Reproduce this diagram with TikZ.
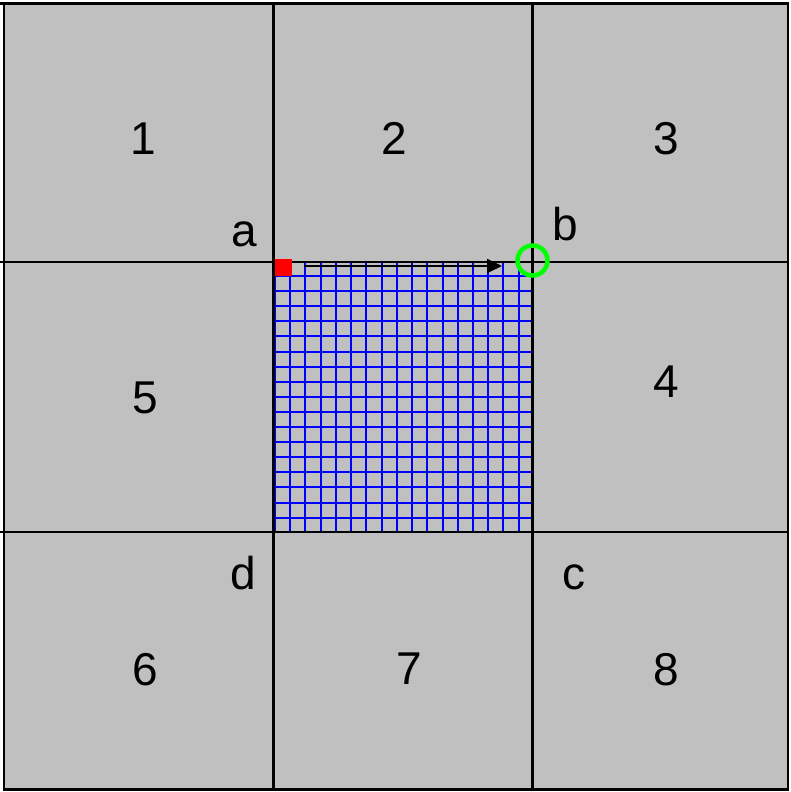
\documentclass[tikz,border=0pt]{standalone}
\usepackage{fontspec}
\setmainfont{Liberation Sans}
\usetikzlibrary{arrows.meta}
\definecolor{cellgray}{HTML}{C0C0C0}
\definecolor{brightgreen}{HTML}{00FF00}
\begin{document}
\begin{tikzpicture}[x=1pt,y=-1pt,
  lbl/.style={anchor=base,inner sep=0pt,font=\fontsize{46}{50}\selectfont},
  frame/.style={draw=black,line width=2.2pt},
  gridline/.style={draw=blue,line width=2pt}]
\useasboundingbox (0,0) rectangle (790,792);
% background board
\path[fill=cellgray] (4,4) rectangle (788,790);
% blue fine grid
\foreach \k in {0,...,16}{
  \draw[gridline] ({275+\k*15.23},261) -- ({275+\k*15.23},532);
  \draw[gridline] (275,{276+\k*15.1}) -- (533,{276+\k*15.1});
}
% cell separators
\draw[frame] (0,262) -- (788,262);
\draw[frame] (0,532) -- (788,532);
\draw[frame] (273.5,4) -- (273.5,790);
\draw[frame] (532.5,4) -- (532.5,790);
% outer border
\draw[frame] (0,3.5) -- (788,3.5);
\draw[frame,line width=2.8pt] (4,3.5) rectangle (788,789.5);
% red start cell
\node[fill=red,minimum size=16.5pt,inner sep=0pt] (start) at (283.3,267.6) {};
% arrow
\coordinate (arrowtail) at (304,266);
\coordinate (arrowhead) at (502,266);
\draw[line width=1.8pt,-{Triangle[length=15pt,width=14pt]}] (arrowtail) -- (arrowhead);
% green circle
\node[draw=brightgreen,line width=4.5pt,circle,minimum size=30pt,inner sep=0pt] (target) at (532.5,260.5) {};
% numbers
\node[lbl] (n1) at (143,154) {1};
\node[lbl] (n2) at (394,154) {2};
\node[lbl] (n3) at (666,154) {3};
\node[lbl] (n5) at (145,413) {5};
\node[lbl] (n4) at (666,397) {4};
\node[lbl] (n6) at (145,685) {6};
\node[lbl] (n7) at (409,684) {7};
\node[lbl] (n8) at (666,685) {8};
% corner letters
\node[lbl] (la) at (244,246) {a};
\node[lbl] (lb) at (565,240) {b};
\node[lbl] (ld) at (243,589) {d};
\node[lbl] (lc) at (574,589) {c};
\end{tikzpicture}
\end{document}
